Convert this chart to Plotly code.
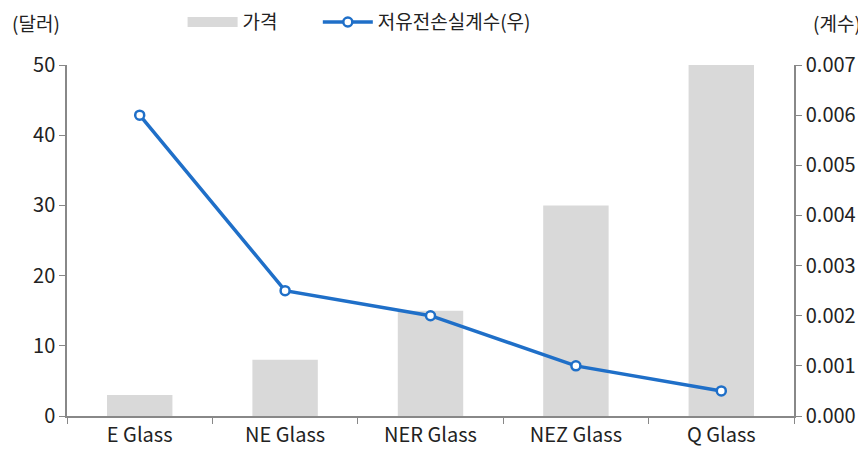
import plotly.graph_objects as go

categories = ["E Glass", "NE Glass", "NER Glass", "NEZ Glass", "Q Glass"]
price = [3, 8, 15, 30, 50]
loss_coef = [0.006, 0.0025, 0.002, 0.001, 0.0005]

FONT = dict(family="Noto Sans CJK KR, Noto Sans, sans-serif", size=20, color="#222222")
AXIS_COLOR = "#888888"
BAR_COLOR = "#d9d9d9"
LINE_COLOR = "#1f6fc8"

fig = go.Figure()
fig.add_trace(go.Bar(
    x=categories, y=price, name="가격", showlegend=False,
    marker=dict(color=BAR_COLOR, line=dict(width=0)),
))
# legend-only entry so the bar swatch shows as a wide band
fig.add_trace(go.Scatter(
    x=[None], y=[None], name="가격", mode="lines",
    line=dict(color=BAR_COLOR, width=10), legend="legend",
))
fig.add_trace(go.Scatter(
    x=categories, y=loss_coef, name="저유전손실계수(우)", yaxis="y2",
    mode="lines+markers", legend="legend2",
    line=dict(color=LINE_COLOR, width=3.5),
    marker=dict(size=9, color="white", line=dict(color=LINE_COLOR, width=2.5)),
))

legend_style = dict(orientation="h", y=1.122, xanchor="left", yanchor="middle",
                    font=dict(size=19), itemwidth=50, bgcolor="rgba(0,0,0,0)")

fig.update_layout(
    width=858, height=445,
    paper_bgcolor="white", plot_bgcolor="white",
    font=FONT,
    bargap=0.55,
    showlegend=True,
    legend=dict(x=0.159, **legend_style),
    legend2=dict(x=0.345, **legend_style),
    margin=dict(t=57, b=37, l=59, r=72, autoexpand=False),
    xaxis=dict(showgrid=False, showline=True, linecolor=AXIS_COLOR, linewidth=1.5,
               ticks="outside", tickson="boundaries", tickcolor=AXIS_COLOR, ticklen=6,
               automargin=False),
    yaxis=dict(range=[0, 50], dtick=10, showgrid=False, zeroline=False,
               showline=True, linecolor=AXIS_COLOR, linewidth=1.5,
               ticks="outside", tickcolor=AXIS_COLOR, ticklen=6, automargin=False),
    yaxis2=dict(range=[0, 0.007], dtick=0.001, tickformat=".3f", overlaying="y",
                side="right", showgrid=False, zeroline=False,
                showline=True, linecolor=AXIS_COLOR, linewidth=1.5,
                ticks="outside", tickcolor=AXIS_COLOR, ticklen=6, automargin=False),
    annotations=[
        dict(text="(달러)", xref="paper", yref="paper", x=-0.079, y=1.122,
             xanchor="left", yanchor="middle", showarrow=False, font=dict(size=19)),
        dict(text="(계수)", xref="paper", yref="paper", x=1.095, y=1.122,
             xanchor="right", yanchor="middle", showarrow=False, font=dict(size=19)),
    ],
)

fig.write_html("out.html")
